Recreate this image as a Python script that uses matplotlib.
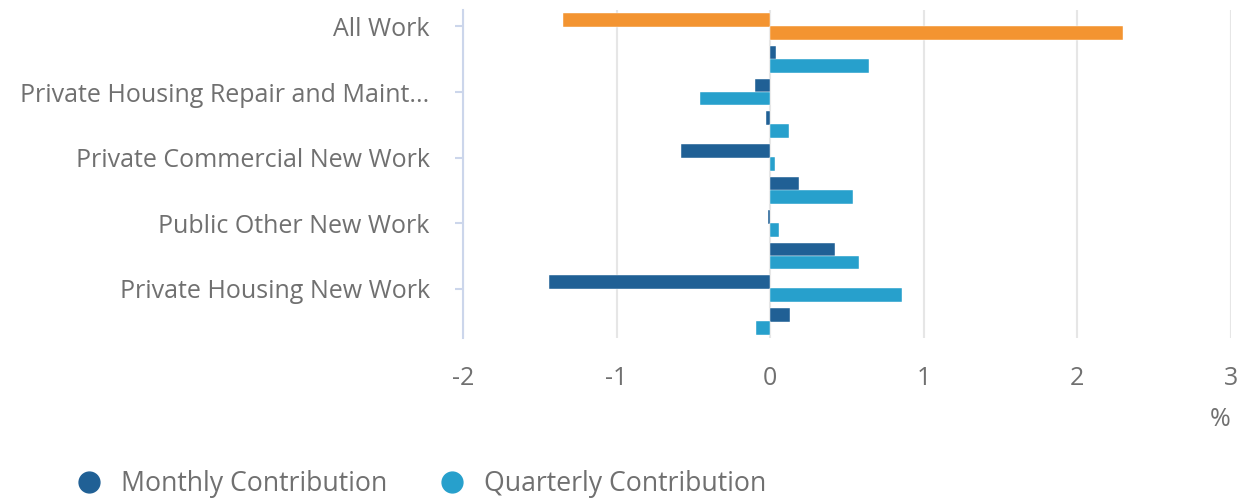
import matplotlib
matplotlib.use("Agg")
import matplotlib.pyplot as plt
from matplotlib.lines import Line2D
import numpy as np

plt.rcParams["font.family"] = ["Open Sans", "DejaVu Sans"]

categories = [
    "All Work",
    "Infrastructure New Work",
    "Private Housing Repair and Maint...",
    "Non-housing Repair and Maintenance",
    "Private Commercial New Work",
    "Public Housing Repair and Maintenance",
    "Public Other New Work",
    "Private Industrial New Work",
    "Private Housing New Work",
    "Public Housing New Work",
]
monthly = [-1.35, 0.04, -0.10, -0.03, -0.58, 0.19, -0.015, 0.42, -1.44, 0.13]
quarterly = [2.30, 0.64, -0.46, 0.12, 0.03, 0.54, 0.06, 0.58, 0.86, -0.09]
xticks = [-2, -1, 0, 1, 2, 3]

DARK = "#206095"
LIGHT = "#27a0cc"
ORANGE = "#f39431"
TEXT = "#707070"
AXIS = "#ccd6eb"

fig = plt.figure(figsize=(12.45, 4.99), dpi=100)
ax = fig.add_axes([463 / 1245, 1 - 338 / 499, (1231 - 463) / 1245, 328 / 499])

y = np.arange(len(categories))
m_col = [ORANGE if i == 0 else DARK for i in y]
q_col = [ORANGE if i == 0 else LIGHT for i in y]
ax.barh(y - 0.2, monthly, height=0.42, color=m_col, edgecolor="white", linewidth=0.3, zorder=3)
ax.barh(y + 0.2, quarterly, height=0.42, color=q_col, edgecolor="white", linewidth=0.3, zorder=3)

ax.set_xlim(-2, 3)
ax.set_ylim(len(categories) - 0.5, -0.5)
ax.set_xticks(xticks)
ax.set_xticklabels([str(t) for t in xticks])
ax.set_yticks(y[::2])
ax.set_yticklabels(categories[::2])

ax.grid(axis="x", color="#e6e6e6", linewidth=1.5, zorder=0)
for s in ["top", "right", "bottom"]:
    ax.spines[s].set_visible(False)
ax.spines["left"].set_color(AXIS)
ax.spines["left"].set_linewidth(1.5)

ax.tick_params(axis="x", length=0, pad=20, labelsize=18, labelcolor=TEXT)
ax.tick_params(axis="y", length=6, width=1.5, color=AXIS, pad=18, labelsize=18, labelcolor=TEXT)

fig.text(1220 / 1245, 1 - 420 / 499, "%", ha="center", va="center", fontsize=18, color=TEXT)

handles = [
    Line2D([], [], marker="o", linestyle="", markersize=15, color=DARK),
    Line2D([], [], marker="o", linestyle="", markersize=15, color=LIGHT),
]
fig.legend(handles, ["Monthly Contribution", "Quarterly Contribution"], loc="center left",
           bbox_to_anchor=(62 / 1245, 1 - 484 / 499), ncol=2, frameon=False, fontsize=19.2,
           labelcolor=TEXT, handletextpad=0.2, columnspacing=1.45, borderpad=0, borderaxespad=0)

fig.savefig("out.png", dpi=100)
